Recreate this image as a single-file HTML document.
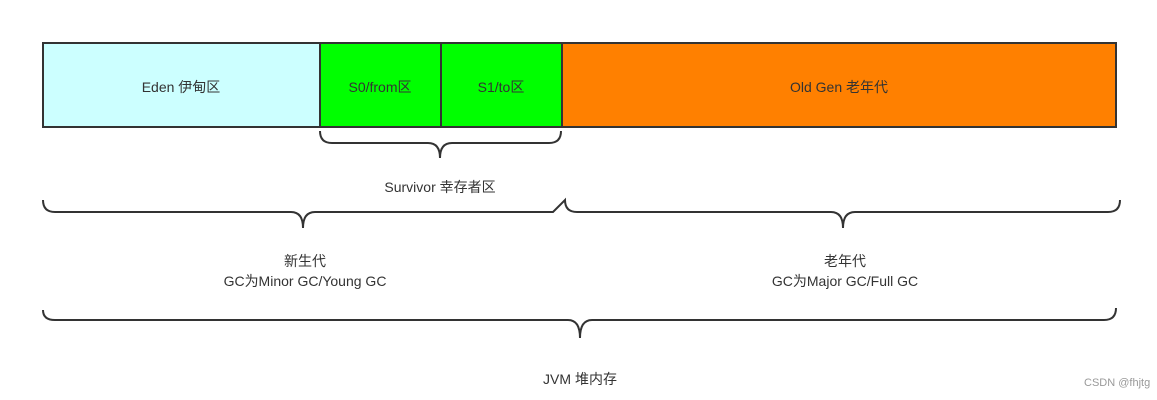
<!DOCTYPE html>
<html><head><meta charset="utf-8"><style>
body{margin:0;background:#fff;width:1157px;height:400px;overflow:hidden;position:relative;font-family:"Liberation Sans","Noto Sans CJK SC",sans-serif;color:#333}
.t{position:absolute;font-size:14px;text-align:center;line-height:20px;transform:translateX(-50%);white-space:nowrap}
</style></head><body>
<svg width="1157" height="400" style="position:absolute;left:0;top:0">
<g stroke="#333" stroke-width="2">
<rect x="43" y="43" width="277" height="84" fill="#ccffff"/>
<rect x="320" y="43" width="121" height="84" fill="#00ff00"/>
<rect x="441" y="43" width="121" height="84" fill="#00ff00"/>
<rect x="562" y="43" width="554" height="84" fill="#ff8000"/>
</g>
<g stroke="#333" stroke-width="2" fill="none">
<path d="M320,131 Q320,143 332,143 L428,143 Q440,143 440,158 Q440,143 452,143 L549,143 Q561,143 561,131"/>
<path d="M43,200 Q43,212 55,212 L291,212 Q303,212 303,228 Q303,212 315,212 L553,212 Q565,200 565,200 Q565,212 577,212 L831,212 Q843,212 843,228 Q843,212 855,212 L1108,212 Q1120,212 1120,200"/>
<path d="M43,310 Q43,320 55,320 L568,320 Q580,320 580,338 Q580,320 592,320 L1104,320 Q1116,320 1116,308"/>
</g>
</svg>
<div class="t" style="left:181px;top:77px">Eden 伊甸区</div>
<div class="t" style="left:380px;top:77px">S0/from区</div>
<div class="t" style="left:501px;top:77px">S1/to区</div>
<div class="t" style="left:839px;top:77px">Old Gen 老年代</div>
<div class="t" style="left:440px;top:177px">Survivor 幸存者区</div>
<div class="t" style="left:305px;top:251px">新生代<br>GC为Minor GC/Young GC</div>
<div class="t" style="left:845px;top:251px">老年代<br>GC为Major GC/Full GC</div>
<div class="t" style="left:580px;top:369px">JVM 堆内存</div>
<div style="position:absolute;left:1084px;top:377px;font-size:11px;color:#999">CSDN @fhjtg</div>
</body></html>
